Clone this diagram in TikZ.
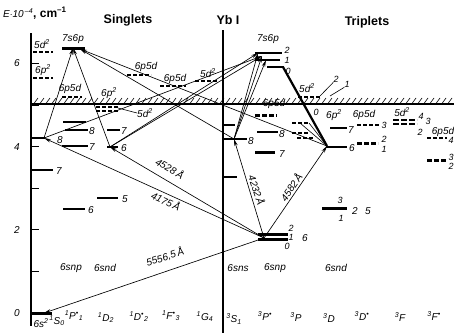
\documentclass[tikz,border=0pt]{standalone}
\usepackage{fontspec}
\setmainfont{Liberation Sans}
\usetikzlibrary{arrows.meta}
\begin{document}
\begin{tikzpicture}[x=1pt,y=-1pt,
  lvl/.style={line width=1.4pt},
  thk/.style={line width=3pt},
  dlvl/.style={line width=1.3pt, dash pattern=on 4pt off 2pt},
  tr/.style={line width=0.65pt, -{Stealth[length=7pt,width=3.4pt]}},
  ln/.style={line width=0.6pt},
  lab/.style={font=\fontsize{10}{10}\selectfont\itshape, inner sep=0pt},
  slab/.style={font=\fontsize{9}{9}\selectfont\itshape, inner sep=0pt},
  ttl/.style={font=\fontsize{12.5}{12.5}\selectfont\bfseries, inner sep=0pt}]
\useasboundingbox (0,0) rectangle (454,333);
% titles
\node[inner sep=0pt, anchor=west] (ttlE) at (3,13) {\fontsize{10}{10}\selectfont\itshape E$\cdot$10\textsuperscript{\,--4}\upshape\bfseries\fontsize{12}{12}\selectfont, cm\textsuperscript{--1}};
\node[ttl] (sing) at (128,20) {Singlets};
\node[ttl] (ybi) at (228,20) {Yb I};
\node[ttl] (trip) at (367,22) {Triplets};
% axes
\draw[line width=1.1pt] (31,33) -- (31,326);
\draw[line width=1.1pt] (223,30) -- (223,333);
\foreach \e in {1,...,6} \draw[line width=0.8pt] (31,{313-41.6*\e}) -- (39,{313-41.6*\e});
\node[lab] (e6) at (17,63) {6};
\node[lab] (e4) at (17,147) {4};
\node[lab] (e2) at (17,230) {2};
\node[lab] (e0) at (17,313) {0};
% ionization limit
\draw[line width=1.1pt] (31,104) -- (454,104);
\foreach \x in {34,40,...,450} \draw[line width=0.6pt] (\x,103.5) -- (\x+4,98);
% configuration labels
\node[lab] (c1) at (71,268) {6snp};
\node[lab] (c2) at (105,268) {6snd};
\node[lab] (c3) at (238,268) {6sns};
\node[lab] (c4) at (275,268) {6snp};
\node[lab] (c5) at (336,268) {6snd};
% term labels
\node[lab] (t0) at (41,323) {6s\textsuperscript{2}};
\node[lab] (t1) at (57,321) {\textsuperscript{1}S\textsubscript{0}};
\node[lab] (t2) at (74,316) {\textsuperscript{1}P\textsuperscript{•}\textsubscript{1}};
\node[lab] (t3) at (106,318) {\textsuperscript{1}D\textsubscript{2}};
\node[lab] (t4) at (139,317) {\textsuperscript{1}D\textsuperscript{•}\textsubscript{2}};
\node[lab] (t5) at (171,316) {\textsuperscript{1}F\textsuperscript{•}\textsubscript{3}};
\node[lab] (t6) at (205,317) {\textsuperscript{1}G\textsubscript{4}};
\node[lab] (t7) at (234,319) {\textsuperscript{3}S\textsubscript{1}};
\node[lab] (t8) at (265,316) {\textsuperscript{3}P\textsuperscript{•}};
\node[lab] (t9) at (296,317) {\textsuperscript{3}P};
\node[lab] (t10) at (329,318) {\textsuperscript{3}D};
\node[lab] (t11) at (362,316) {\textsuperscript{3}D\textsuperscript{•}};
\node[lab] (t12) at (400,317) {\textsuperscript{3}F};
\node[lab] (t13) at (434,316) {\textsuperscript{3}F\textsuperscript{•}};
% ---------- singlet levels
\draw[thk] (31,313) -- (52,313);
\draw[lvl] (31,170) -- (53,170); \node[lab] (n1) at (59,171) {7};
\draw[lvl] (31,138) -- (45,138); \node[lab] (n2) at (60,140) {8};
\draw[dlvl] (33,52) -- (53,52); \node[lab] (n3) at (42,44) {5d\textsuperscript{2}};
\draw[dlvl] (33,78) -- (53,78); \node[lab] (n4) at (43,70) {6p\textsuperscript{2}};
\draw[lvl] (63,209) -- (85,209); \node[lab] (n5) at (91,210) {6};
\draw[lvl] (62,146) -- (88,146); \node[lab] (n6) at (92,147) {7};
\draw[lvl] (65,130) -- (88,130); \node[lab] (n7) at (92,131) {8};
\draw[lvl] (63,122) -- (86,122);
\draw[thk] (62,48) -- (85,48); \node[lab] (n8) at (73,39) {7s6p};
\draw[dlvl] (62,97) -- (82,97); \node[lab] (n9) at (70,89) {6p5d};
\draw[lvl] (97,198) -- (118,198); \node[lab] (n10) at (125,199) {5};
\draw[lvl] (107,147) -- (118,147); \node[lab] (n11) at (124,148) {6};
\draw[lvl] (107,130) -- (120,130); \node[lab] (n12) at (124,131) {7};
\draw[dlvl] (96,107) -- (118,107);
\draw[dlvl] (96,111) -- (118,111);
\node[lab] (n13) at (109,93) {6p\textsuperscript{2}};
\node[lab] (n14) at (145,113) {5d\textsuperscript{2}};
\draw[ln] (118,108) -- (n14.west);
\draw[dlvl] (127,75) -- (151,75); \node[lab] (n15) at (146,67) {6p5d};
\draw[dlvl] (160,86) -- (186,86); \node[lab] (n16) at (175,79) {6p5d};
\draw[dlvl] (195,81) -- (218,81); \node[lab] (n17) at (208,73) {5d\textsuperscript{2}};
% ---------- triplet levels
\draw[lvl] (223,177) -- (237,177);
\draw[lvl] (223,139) -- (247,139); \node[lab] (m1) at (251,141) {8};
\draw[lvl] (223,125) -- (235,125);
\draw[thk] (258,234) -- (288,234);
\draw[thk] (258,239) -- (288,239);
\node[slab] (m2) at (291,228) {2};
\node[slab] (m3) at (291,237) {1};
\node[slab] (m4) at (287,246) {0};
\node[lab] (m5) at (305,238) {6};
\draw[thk] (255,152) -- (275,152); \node[lab] (m6) at (282,154) {7};
\draw[lvl] (257,132) -- (278,132); \node[lab] (m7) at (282,134) {8};
\draw[thk, dash pattern=on 5pt off 2pt] (255,115) -- (277,115);
\node[lab] (m8) at (274,104) {6p5d};
\draw[lvl] (255,53) -- (282,53); \node[slab] (m9) at (287,50) {2};
\draw[lvl] (255,60) -- (280,60); \node[slab] (m10) at (287,60) {1};
\draw[lvl] (267,67) -- (284,67); \node[slab] (m11) at (288,71) {0};
\node[lab] (m12) at (268,39) {7s6p};
\draw[dlvl] (298,97) -- (320,97); \node[lab] (m13) at (307,88) {5d\textsuperscript{2}};
\node[slab] (m14) at (336,79) {2}; \node[slab] (m15) at (347,84) {1};
\draw[ln] (320,96) -- (m14.south west);
\draw[ln] (330,96) -- (m15.south west);
\node[slab] (m16) at (316,112) {0};
\node[lab] (m17) at (334,115) {6p\textsuperscript{2}};
\draw[dlvl] (292,123) -- (309,123);
\draw[dlvl] (292,133) -- (309,133);
\draw[dlvl] (297,138) -- (313,138);
\draw[thk] (322,208) -- (347,208);
\node[slab] (m18) at (340,200) {3}; \node[lab] (m19) at (355,211) {2};
\node[slab] (m20) at (341,218) {1}; \node[lab] (m21) at (368,211) {5};
\draw[lvl] (326,147) -- (347,147); \node[lab] (m22) at (352,148) {6};
\draw[lvl] (330,128) -- (347,128); \node[lab] (m23) at (351,130) {7};
\node[lab] (m24) at (364,115) {6p5d};
\draw[dlvl] (357,125) -- (380,125); \node[slab] (m25) at (384,125) {3};
\draw[thk, dash pattern=on 5pt off 2pt] (357,143) -- (378,143);
\node[slab] (m26) at (384,139) {2}; \node[slab] (m27) at (384,149) {1};
\node[lab] (m28) at (402,112) {5d\textsuperscript{2}};
\draw[line width=1.8pt, dash pattern=on 6pt off 2pt] (393,120) -- (417,120);
\draw[line width=1.8pt, dash pattern=on 6pt off 2pt] (393,124) -- (417,124);
\node[slab] (m29) at (421,116) {4}; \node[slab] (m30) at (428,121) {3};
\node[slab] (m31) at (420,132) {2};
\node[lab] (m32) at (443,132) {6p5d};
\draw[dlvl] (427,138) -- (447,138); \node[slab] (m33) at (451,140) {4};
\draw[thk, dash pattern=on 5pt off 2pt] (427,160) -- (447,160);
\node[slab] (m34) at (451,157) {3}; \node[slab] (m35) at (451,166) {2};
% ---------- transition endpoints
\coordinate (g) at (44,313);
\coordinate (p1) at (264,238);
\coordinate (s8) at (44,138);
\coordinate (d6) at (110,147);
\coordinate (t8) at (234,139);
\coordinate (td6) at (327,146);
\coordinate (s76) at (73,48);
\coordinate (s76b) at (80,49);
\coordinate (t76) at (262,56);
\coordinate (t760) at (283,67);
\coordinate (t762) at (258,53);
\coordinate (t761) at (266,60);
\coordinate (dA) at (300,123);
\coordinate (dB) at (309,123);
% first and second steps
\draw[tr] (p1) -- (g);
\draw[tr] (p1) -- (s8);
\draw[tr] (p1) -- (d6);
\draw[tr] (p1) -- (t8);
\draw[tr] (p1) -- (td6);
% third steps
\draw[tr] (s8) -- (s76);
\draw[tr] (d6) -- (s76);
\draw[tr] (s8) -- (t76);
\draw[tr] (d6) -- (t76);
\draw[tr] (d6) -- (t762);
\draw[tr] (t8) -- (s76b);
\draw[tr] (td6) -- (s76b);
\draw[tr] (t8) -- (t76);
\draw[tr] (t8) -- (t762);
\draw[tr] (t8) -- (t761);
\draw[line width=2.2pt] (td6) -- (t760);
\draw[ln] (td6) -- (dA);
\draw[ln] (td6) -- (dB);
% wavelength labels
\node[lab, rotate=18] (w1) at (165,257) {5556,5\,Å};
\node[lab, rotate=-24] (w2) at (166,201) {4175\,Å};
\node[lab, rotate=-30] (w3) at (170,168) {4528\,Å};
\node[lab, rotate=-72] (w4) at (257,190) {4232\,Å};
\node[lab, rotate=56] (w5) at (291,187) {4582\,Å};
\end{tikzpicture}
\end{document}
